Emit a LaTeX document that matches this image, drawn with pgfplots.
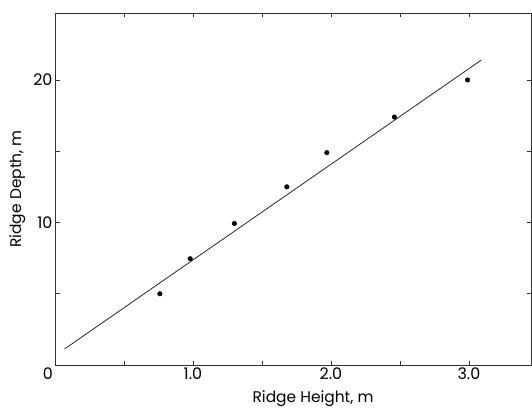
\documentclass[border=0pt]{standalone}
\usepackage{fontspec}
\setmainfont{Poppins}
\usepackage{pgfplots}
\pgfplotsset{compat=1.18}
\begin{document}
\begin{tikzpicture}[x=1bp,y=1bp]
\begin{axis}[
  at={(55bp,43bp)}, anchor=south west,
  scale only axis, width=476bp, height=352bp,
  xmin=0, xmax=3.45, ymin=0, ymax=24.7,
  axis line style={black!80, line width=0.8pt},
  xtick={0,0.5,...,3}, xticklabels={\llap{0\hspace{2bp}},,1.0,,2.0,,3.0},
  ytick={5,10,15,20}, yticklabels={,10,,20},
  tick align=inside, major tick length=4.5bp,
  tick style={black!80, line width=0.7pt},
  ticklabel style={font=\fontsize{16}{16}\selectfont},
  xticklabel style={yshift=1bp},
  yticklabel style={xshift=1bp},
  /pgf/number format/assume math mode=true,
  xlabel={Ridge Height, m}, ylabel={Ridge Depth, m},
  label style={font=\fontsize{15.5}{16}\selectfont},
  xlabel style={at={(axis description cs:0.542,-0.097)}, anchor=center},
  ylabel style={at={(axis description cs:-0.079,0.5)}, anchor=center, rotate=0},
]
  % fitted line
  \addplot[black!85, line width=0.8pt] coordinates {(0.07,1.13) (3.09,21.4)};
  % measured points
  \addplot[only marks, mark=*, mark size=2.3bp, black]
    coordinates {(0.76,5.0) (0.98,7.46) (1.30,9.93) (1.68,12.5)
                 (1.97,14.9) (2.46,17.4) (2.99,20.0)};
\end{axis}
\pgfresetboundingbox
\path[use as bounding box] (0,0) rectangle (532,408);
\end{tikzpicture}
\end{document}
